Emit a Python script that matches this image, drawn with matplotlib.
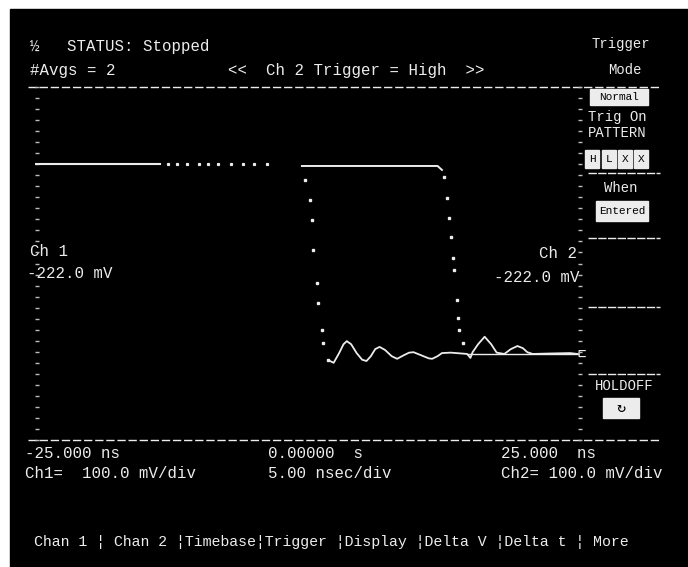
import matplotlib.pyplot as plt
from matplotlib.patches import Rectangle

plt.rcParams['font.family'] = ['Liberation Mono', 'DejaVu Sans Mono', 'DejaVu Sans']

# --- data (time in ns, voltage in mV) ---
offset_mv = -222.0
mv_per_div = 100.0
ns_per_div = 5.0

ch1_t = [-25.3, -19.0, -13.6]
ch1_v = [4, 4, 4]
ch1_dot_t = [-12.8, -12.0, -11.1, -10.0, -9.2, -8.3, -7.1, -6.0, -5.0, -3.8]
ch1_dot_v = [4, 4, 3, 4, 4, 3, 4, 4, 4, 3]

ch2_top_t = [-0.6, 3.0, 7.0, 11.8, 12.2]
ch2_top_v = [-1, -1, -1, -1, -10]
ch2_rise_t = [-0.3, 0.1, 0.3, 0.4, 0.8, 0.9, 1.2, 1.3, 1.8]
ch2_rise_v = [-33, -78, -124, -191, -266, -312, -373, -402, -441]
ch2_fall_t = [12.4, 12.7, 12.8, 13.0, 13.2, 13.3, 13.6, 13.7, 13.8, 14.1]
ch2_fall_v = [-26, -74, -119, -162, -210, -237, -305, -346, -373, -402]

ring_t = [1.8, 2.3, 2.8, 3.2, 3.5, 3.9, 4.4, 4.9, 5.3, 5.7, 6.1, 6.5, 7.0,
          7.6, 8.1, 8.7, 9.2, 9.6, 10.3, 11.0, 11.3, 11.8, 12.2, 13.0, 14.0,
          14.5, 14.8, 15.0, 15.5, 16.1, 16.7, 17.2, 17.9, 18.5, 19.1, 19.6,
          20.0, 20.5, 22.0, 23.9, 24.6]
ring_v = [-441, -447, -425, -405, -398, -405, -425, -440, -443, -432, -416,
          -411, -418, -432, -438, -430, -424, -423, -430, -437, -438, -432,
          -425, -424, -426, -427, -436, -423, -405, -388, -405, -424, -427,
          -416, -409, -414, -423, -427, -426, -425, -427]
base_t = [14.6, 24.6]
base_v = [-428, -428]

header_left = ['STATUS: Stopped', '#Avgs = 2']
trigger_msg = '<<  Ch 2 Trigger = High  >>'
time_labels = ['-25.000 ns', '0.00000  s', '25.000  ns']
scale_labels = ['Ch1=  100.0 mV/div', '5.00 nsec/div', 'Ch2= 100.0 mV/div']
softkey_line = 'Chan 1 ¦ Chan 2 ¦Timebase¦Trigger ¦Display ¦Delta V ¦Delta t ¦ More'

W, H = 688, 567
FG = '#ececec'

fig = plt.figure(figsize=(W / 100, H / 100), dpi=100)
fig.patch.set_facecolor('white')

# overlay in pixel coordinates for the screen furniture
ov = fig.add_axes([0, 0, 1, 1])
ov.set_xlim(0, W)
ov.set_ylim(H, 0)
ov.axis('off')
ov.add_patch(Rectangle((10, 9), W - 10, H - 9, color='black'))

# graticule area
gx0, gx1, gy0, gy1 = 35, 582, 87, 440
ax = fig.add_axes([gx0 / W, 1 - gy1 / H, (gx1 - gx0) / W, (gy1 - gy0) / H])
ax.set_facecolor('none')
ax.set_xlim(-5 * ns_per_div, 5 * ns_per_div)
ax.set_ylim(offset_mv - 4 * mv_per_div, offset_mv + 4 * mv_per_div)
for s in ax.spines.values():
    s.set_visible(False)
ax.set_xticks([])
ax.set_yticks([offset_mv + k * mv_per_div / 4 for k in range(-16, 17)])
ax.yaxis.set_ticks_position('both')
ax.tick_params(axis='y', direction='in', length=3, width=1.0, color='#bdbdbd',
               left=True, right=True, labelleft=False, labelright=False)

ax.plot(ch1_t, ch1_v, color=FG, lw=1.5)
ax.plot(ch1_dot_t, ch1_dot_v, ls='none', marker='s', ms=1.3, color=FG)
ax.plot(ch2_top_t, ch2_top_v, color=FG, lw=1.4)
ax.plot(ch2_rise_t, ch2_rise_v, ls='none', marker='s', ms=1.6, color=FG)
ax.plot(ch2_fall_t, ch2_fall_v, ls='none', marker='s', ms=1.6, color=FG)
ax.plot(ring_t, ring_v, color=FG, lw=1.3)
ax.plot(base_t, base_v, color=FG, lw=1.0)

# separators
for yy in (87, 440):
    ov.plot([28, 660], [yy, yy], color=FG, lw=1.0, ls=(0, (6, 2)))
for yy in (173, 238, 307, 374):
    ov.plot([588, 660], [yy, yy], color=FG, lw=1.0, ls=(0, (6, 1)))

txt = dict(color=FG, fontsize=11.3, va='center')
small = dict(color=FG, fontsize=10, va='center', ha='center')
ov.text(30, 47, '½', **txt)
ov.text(67, 47, header_left[0], **txt)
ov.text(30, 70, header_left[1], **txt)
ov.text(228, 70, trigger_msg, **txt)

ov.text(621, 44, 'Trigger', **small)
ov.text(625, 70, 'Mode', **small)


def inv_box(x, y, w, h, label, size=8):
    ov.add_patch(Rectangle((x, y), w, h, color=FG))
    ov.text(x + w / 2, y + h / 2, label, color='black', fontsize=size,
            ha='center', va='center')


inv_box(590, 89, 58, 16, 'Normal')
ov.text(617, 117, 'Trig On', **small)
ov.text(617, 133, 'PATTERN', **small)
for bx, lab in zip([585, 602, 618, 634], ['H', 'L', 'X', 'X']):
    inv_box(bx, 150, 14, 18, lab)
ov.text(621, 188, 'When', **small)
inv_box(596, 201, 52, 20, 'Entered')
ov.text(624, 386, 'HOLDOFF', **small)
inv_box(603, 398, 36, 20, '↻', size=11)

ov.text(30, 252, 'Ch 1', **txt)
ov.text(27, 274, f'{offset_mv:.1f} mV', **txt)
ov.text(577, 254, 'Ch 2', ha='right', **txt)
ov.text(580, 277, f'{offset_mv:.1f} mV', ha='right', **txt)
ov.text(577, 354, '⊏', color=FG, fontsize=10, va='center', ha='left')

for x, lab in zip([25, 268, 501], time_labels):
    ov.text(x, 454, lab, **txt)
for x, lab in zip([25, 268, 501], scale_labels):
    ov.text(x, 473, lab, **txt)

ov.text(34, 542, softkey_line, color=FG, fontsize=10.7, va='center')

fig.savefig('out.png', dpi=100, facecolor=fig.get_facecolor())
